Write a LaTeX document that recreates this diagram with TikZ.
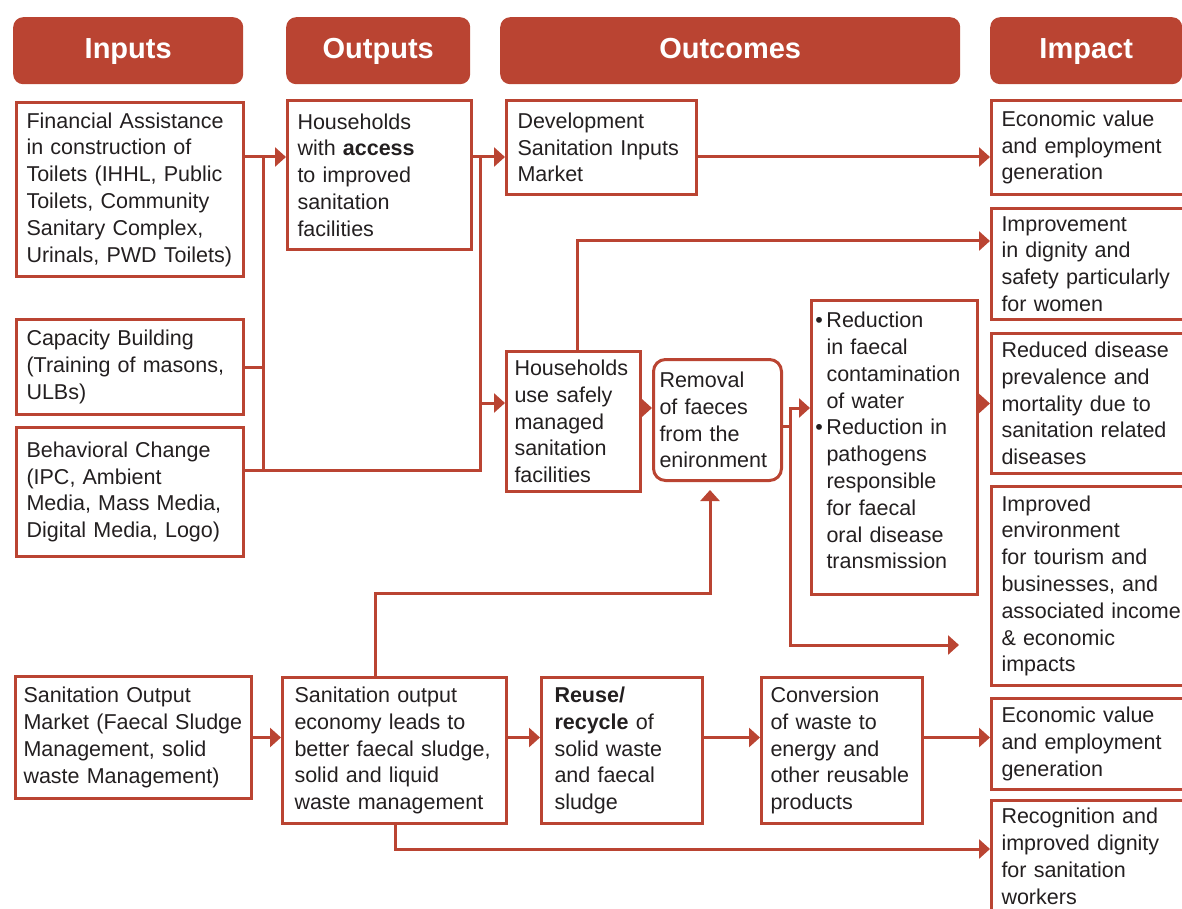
\documentclass[tikz,border=0pt]{standalone}
\usepackage{fontspec}
\setmainfont{Liberation Sans}
\usetikzlibrary{arrows.meta}
\definecolor{brick}{RGB}{186,68,50}
\definecolor{ink}{RGB}{35,31,32}

\begin{document}
\begin{tikzpicture}[x=1pt, y=-1pt,
    hdr/.style={rectangle, rounded corners=10pt, fill=brick, text=white, font=\fontsize{29}{32}\selectfont\bfseries, anchor=north west, minimum height=67pt, text height=21pt, text depth=6pt, inner sep=0pt},
    box/.style={rectangle, draw=brick, line width=3pt, anchor=north west, align=left, inner sep=0pt, text=ink, font=\fontsize{21.5}{26.8}\selectfont},
    link/.style={draw=brick, line width=3pt},
    arr/.style={link, -{Triangle[length=11pt, width=19pt]}}]
    \path [use as bounding box] (0,0) rectangle (1182,909);
    \clip (0,0) rectangle (1182,909);

    % column heads
    \node (hin) [hdr, minimum width=230pt] at (13,17) {Inputs};
    \node (hout) [hdr, minimum width=184pt] at (286,17) {Outputs};
    \node (hoc) [hdr, minimum width=460pt] at (500,17) {Outcomes};
    \node (him) [hdr, minimum width=192pt] at (990,17) {Impact};

    % inputs
    \node (fin) [box, minimum width=227pt, minimum height=174pt, text width=207pt] at (15,101) {Financial Assistance\\in construction of\\Toilets (IHHL, Public\\Toilets, Community\\Sanitary Complex,\\Urinals, PWD Toilets)};
    \node (cap) [box, minimum width=227pt, minimum height=95pt, text width=207pt] at (15,318) {Capacity Building\\(Training of masons,\\ULBs)};
    \node (beh) [box, minimum width=227pt, minimum height=129pt, text width=207pt] at (15,426) {Behavioral Change\\(IPC, Ambient\\Media, Mass Media,\\Digital Media, Logo)};
    \node (som) [box, minimum width=236pt, minimum height=122pt, text width=220pt] at (14,675) {Sanitation Output\\Market (Faecal Sludge\\Management, solid\\waste Management)};

    % outputs
    \node (acc) [box, minimum width=184pt, minimum height=149pt, text width=164pt] at (286,99) {Households\\with \textbf{access}\\to improved\\sanitation\\facilities};
    \node (soe) [box, minimum width=224pt, minimum height=146pt, text width=200pt] at (281,676) {Sanitation output\\economy leads to\\better faecal sludge,\\solid and liquid\\waste management};

    % outcomes
    \node (dev) [box, minimum width=190pt, minimum height=94pt, text width=168pt] at (505,99) {Development\\Sanitation Inputs\\Market};
    \node (use) [box, minimum width=134pt, minimum height=140pt, text width=118pt] at (505,350) {Households\\use safely\\managed\\sanitation\\facilities};
    \node (rem) [box, rounded corners=12pt, minimum width=128pt, minimum height=121pt, text width=116pt] at (652,358) {Removal\\of faeces\\from the\\enironment};
    \node (red) [box, minimum width=166pt, minimum height=294pt, text width=136pt, text depth=255pt] at (810,299) {\leavevmode\llap{\textbullet\,}Reduction\\in faecal\\contamination\\of water\\\leavevmode\llap{\textbullet\,}Reduction in\\pathogens\\responsible\\for faecal\\oral disease\\transmission};
    \node (reu) [box, minimum width=161pt, minimum height=146pt, text width=135pt] at (540,676) {\textbf{Reuse/}\\\textbf{recycle} of\\solid waste\\and faecal\\sludge};
    \node (con) [box, minimum width=161pt, minimum height=146pt, text width=143pt] at (760,676) {Conversion\\of waste to\\energy and\\other reusable\\products};

    % impact
    \node (imp1) [box, minimum width=220pt, minimum height=94pt, text width=200pt] at (990,99) {Economic value\\and employment\\generation};
    \node (imp2) [box, minimum width=220pt, minimum height=111pt, text width=200pt] at (990,207) {Improvement\\in dignity and\\safety particularly\\for women};
    \node (imp3) [box, minimum width=220pt, minimum height=140pt, text width=200pt] at (990,332) {Reduced disease\\prevalence and\\mortality due to\\sanitation related\\diseases};
    \node (imp4) [box, minimum width=220pt, minimum height=199pt, text width=200pt] at (990,485) {Improved\\environment\\for tourism and\\businesses, and\\associated income\\\& economic\\impacts};
    \node (imp5) [box, minimum width=220pt, minimum height=91pt, text width=200pt] at (990,697) {Economic value\\and employment\\generation};
    \node (imp6) [box, minimum width=220pt, minimum height=112pt, text width=200pt] at (990,799) {Recognition and\\improved dignity\\for sanitation\\workers};

    % bends
    \coordinate (j1) at (263,157);
    \coordinate (j2) at (263,470);
    \coordinate (j3) at (480,157);
    \coordinate (j4) at (480,403);
    \coordinate (j5) at (577,241);
    \coordinate (j6) at (790,408);
    \coordinate (j6b) at (790,426);
    \coordinate (j7) at (790,645);
    \coordinate (tip) at (959,645);
    \coordinate (j8) at (375,593);
    \coordinate (j9) at (710,593);
    \coordinate (j10) at (395,849);

    \draw [arr] (fin.east |- j1) -- (acc.west |- j1);
    \draw [link] (j1) -- (j2);
    \draw [link] (cap.east) -- (cap.east -| j1);
    \draw [link] (beh.east |- j2) -- (j2 -| j4) -- (j4);
    \draw [arr] (acc.east |- j3) -- (dev.west |- j3);
    \draw [link] (j3) -- (j4);
    \draw [arr] (j4) -- (use.west |- j4);
    \draw [arr] (dev.east |- j3) -- (imp1.west |- j3);
    \draw [arr] (use.north -| j5) -- (j5) -- (imp2.west |- j5);
    \draw [arr] (use.east |- j6) -- (rem.west |- j6);
    \draw [link] (rem.east |- j6b) -- (j6b);
    \draw [arr] (j7) |- (red.west |- j6);
    \draw [arr] (j6) -- (j7) -- (tip);
    \draw [arr] (red.east |- imp3.west) -- (imp3.west);
    \draw [arr] (som.east) -- (som.east -| soe.west);
    \draw [arr] (soe.east |- som.east) -- (reu.west |- som.east);
    \draw [arr] (reu.east |- som.east) -- (con.west |- som.east);
    \draw [arr] (con.east |- som.east) -- (imp5.west |- som.east);
    \draw [arr, shorten >=8pt] (soe.north -| j8) -- (j8) -- (j9) -- (rem.south -| j9);
    \draw [arr] (soe.south -| j10) -- (j10) -- (imp6.west |- j10);
\end{tikzpicture}
\end{document}
